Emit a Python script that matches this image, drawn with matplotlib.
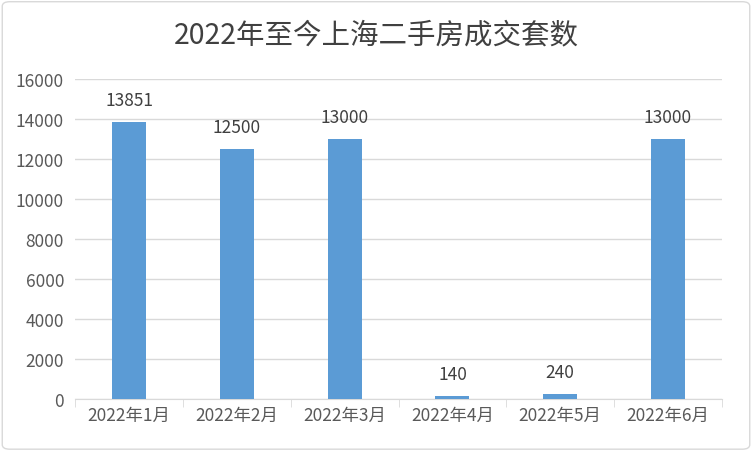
import matplotlib
matplotlib.use("Agg")
from matplotlib import pyplot as plt
from matplotlib.patches import FancyBboxPatch

plt.rcParams['font.family'] = ['Noto Sans CJK SC', 'DejaVu Sans']

months = ["2022年1月", "2022年2月", "2022年3月", "2022年4月", "2022年5月", "2022年6月"]
deals = [13851, 12500, 13000, 140, 240, 13000]
title = "2022年至今上海二手房成交套数"

fig = plt.figure(figsize=(7.52, 4.52), dpi=100)
ax = fig.add_axes([0.1, 0.115, 0.86, 0.708])

# outer chart border
fig.patches.append(FancyBboxPatch((0.003, 0.004), 0.994, 0.99, boxstyle="round,pad=0,rounding_size=0.01",
                                  transform=fig.transFigure, fill=False, edgecolor="#d9d9d9", linewidth=1))

x = range(len(months))
bars = ax.bar(x, deals, width=0.315, color="#5b9bd5", zorder=3)
for b, v in zip(bars, deals):
    ax.text(b.get_x() + b.get_width() / 2, v + 650, str(v), ha="center", va="bottom",
            fontsize=12.5, color="#404040")

ax.set_ylim(0, 16000)
ax.set_xlim(-0.5, len(months) - 0.5)
ax.set_yticks(range(0, 16001, 2000))
ax.set_xticks(list(x))
ax.set_xticklabels(months)
ax.set_xticks([i - 0.5 for i in range(len(months) + 1)], minor=True)
ax.tick_params(axis="x", which="major", length=0, labelsize=12.5, labelcolor="#595959", pad=5)
ax.tick_params(axis="x", which="minor", length=6, color="#d9d9d9")
ax.tick_params(axis="y", length=0, labelsize=12.5, labelcolor="#595959", pad=8)
ax.grid(axis="y", color="#d9d9d9", linewidth=1, zorder=0)
for s in ["top", "right", "left"]:
    ax.spines[s].set_visible(False)
ax.spines["bottom"].set_color("#d9d9d9")

fig.text(0.5, 0.922, title, ha="center", va="center", fontsize=20.5, color="#404040")

plt.savefig("out.png")
plt.close(fig)
